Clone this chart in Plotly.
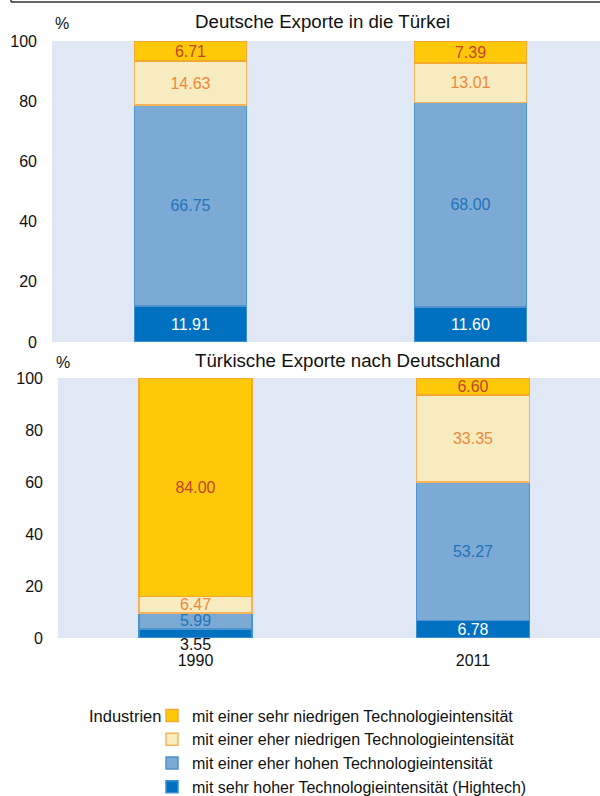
import plotly.graph_objects as go

W, H = 600, 796
years = ["1990", "2011"]
series_names = [
    "mit sehr hoher Technologieintensität (Hightech)",
    "mit einer eher hohen Technologieintensität",
    "mit einer eher niedrigen Technologieintensität",
    "mit einer sehr niedrigen Technologieintensität",
]
# Deutsche Exporte in die Türkei (bottom -> top)
de_hightech = [11.91, 11.60]
de_eher_hoch = [66.75, 68.00]
de_eher_niedrig = [14.63, 13.01]
de_sehr_niedrig = [6.71, 7.39]
# Türkische Exporte nach Deutschland
tr_hightech = [3.55, 6.78]
tr_eher_hoch = [5.99, 53.27]
tr_eher_niedrig = [6.47, 33.35]
tr_sehr_niedrig = [84.00, 6.60]

y_ticks = [0, 20, 40, 60, 80, 100]

fills = ["#0070C0", "#7BAAD4", "#F7ECC0", "#FFC90A"]
lines = ["#3D8FD1", "#4F93CF", "#F6B35B", "#F5A830"]
txtcol = ["#FFFFFF", "#2373BD", "#F0883A", "#C0452A"]

FONT = "Liberation Sans, Arial, sans-serif"
LBL = 16

fig = go.Figure()

top_data = [de_hightech, de_eher_hoch, de_eher_niedrig, de_sehr_niedrig]
bot_data = [tr_hightech, tr_eher_hoch, tr_eher_niedrig, tr_sehr_niedrig]

for i, vals in enumerate(top_data):
    fig.add_trace(go.Bar(
        x=years, y=vals, name=series_names[i], xaxis="x", yaxis="y",
        marker=dict(color=fills[i], line=dict(color=lines[i], width=1.5)),
        width=0.4, text=[f"{v:.2f}" for v in vals], textposition="inside",
        insidetextanchor="middle", constraintext="none",
        textfont=dict(color=txtcol[i], size=LBL, family=FONT),
        showlegend=True, legendrank=4 - i,
    ))

for i, vals in enumerate(bot_data):
    texts = [f"{v:.2f}" for v in vals]
    if i == 0:
        texts = ["", texts[1]]
    fig.add_trace(go.Bar(
        x=years, y=vals, name=series_names[i], xaxis="x2", yaxis="y2",
        marker=dict(color=fills[i], line=dict(color=lines[i], width=1.5)),
        width=0.407, text=texts, textposition="inside",
        insidetextanchor="middle", constraintext="none",
        textfont=dict(color=txtcol[i], size=LBL, family=FONT),
        showlegend=False,
    ))

def px_x(p):
    return p / W

def px_y(p):
    return 1 - p / H

bg = "#E1E8F5"
fig.update_layout(
    width=W, height=H, barmode="stack",
    margin=dict(l=0, r=0, t=0, b=0, autoexpand=False),
    paper_bgcolor="white", plot_bgcolor=bg,
    font=dict(family=FONT, size=16, color="#111111"),
    xaxis=dict(type="category", domain=[px_x(52), 1], range=[-0.4946, 1.4625], showticklabels=False,
               showgrid=False, zeroline=False, showline=False, anchor="y", automargin=False),
    yaxis=dict(domain=[px_y(342), px_y(41)], range=[0, 100], tickvals=y_ticks,
               showgrid=False, zeroline=False, showline=False, anchor="x",
               ticklabelstandoff=14, tickfont=dict(size=16), automargin=False),
    xaxis2=dict(type="category", domain=[px_x(58), 1], range=[-0.4955, 1.4577], showgrid=False,
                zeroline=False, showline=False, anchor="y2",
                ticks="outside", ticklen=8, tickcolor="rgba(0,0,0,0)",
                tickfont=dict(size=16), automargin=False),
    yaxis2=dict(domain=[px_y(638), px_y(378)], range=[0, 100], tickvals=y_ticks,
                showgrid=False, zeroline=False, showline=False, anchor="x2",
                ticklabelstandoff=14, tickfont=dict(size=16), automargin=False),
    showlegend=True,
    legend=dict(x=px_x(152), y=px_y(698.5), xanchor="left", yanchor="top",
                traceorder="normal", font=dict(size=16, family=FONT),
                bgcolor="rgba(0,0,0,0)", tracegroupgap=0),
)

annotations = [
    dict(text="Deutsche Exporte in die Türkei", x=px_x(193), y=px_y(22), xref="paper", yref="paper",
         showarrow=False, font=dict(size=18.7), xanchor="left", yanchor="middle"),
    dict(text="Türkische Exporte nach Deutschland", x=px_x(193), y=px_y(361), xref="paper", yref="paper",
         showarrow=False, font=dict(size=18.7), xanchor="left", yanchor="middle"),
    dict(text="%", x=px_x(62), y=px_y(23), xref="paper", yref="paper",
         showarrow=False, font=dict(size=16), xanchor="center", yanchor="middle"),
    dict(text="%", x=px_x(63), y=px_y(362), xref="paper", yref="paper",
         showarrow=False, font=dict(size=16), xanchor="center", yanchor="middle"),
    dict(text="Industrien", x=px_x(87), y=px_y(716), xref="paper", yref="paper",
         showarrow=False, font=dict(size=16.5), xanchor="left", yanchor="middle"),
    # label for the 1990 hightech share, sitting below its (thin) bar segment
    dict(text=f"{tr_hightech[0]:.2f}", x=years.index("1990"), y=px_y(644), xref="x2", yref="paper",
         showarrow=False, font=dict(size=LBL, color="#111111"), xanchor="center",
         yanchor="middle"),
]
fig.update_layout(annotations=annotations)

fig.add_shape(type="line", xref="paper", yref="paper", x0=px_x(11), x1=1,
              y0=px_y(2), y1=px_y(2), line=dict(color="#333333", width=1.5))
fig.add_shape(type="line", xref="paper", yref="paper", x0=px_x(11), x1=px_x(11),
              y0=px_y(2), y1=1, line=dict(color="#333333", width=1.5))

fig.write_html(
    "out.html",
    config={"displayModeBar": False},
    post_script="document.body.style.margin='0';document.body.style.padding='0';",
)
